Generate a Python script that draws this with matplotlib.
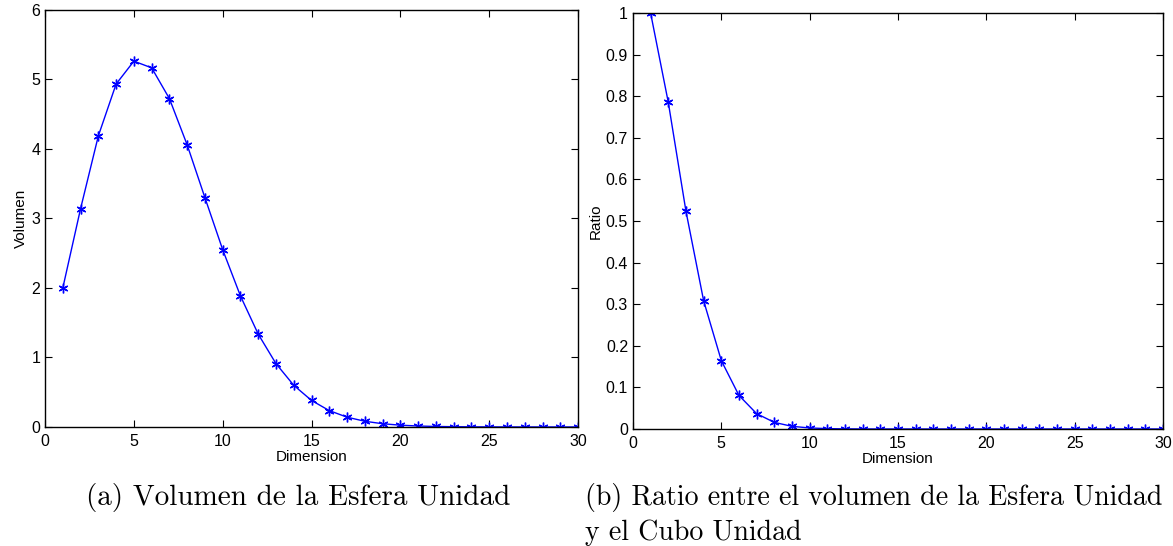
import numpy as np
import matplotlib
matplotlib.use("Agg")
import matplotlib.pyplot as plt

dims = list(range(1, 31))
volumen = [2.0000, 3.1416, 4.1888, 4.9348, 5.2638, 5.1677, 4.7248, 4.0587,
           3.2985, 2.5502, 1.8841, 1.3353, 0.9106, 0.5993, 0.3814, 0.2353,
           0.1409, 0.0821, 0.0466, 0.0258, 0.0139, 0.0073, 0.0038, 0.0019,
           0.0010, 0.0005, 0.0002, 0.0001, 0.0000, 0.0000]
ratio = [1.0000, 0.7854, 0.5236, 0.3084, 0.1645, 0.0807, 0.0369, 0.0159,
         0.0064, 0.0025, 0.0009, 0.0003, 0.0001, 0.0000, 0.0000, 0.0000,
         0.0000, 0.0000, 0.0000, 0.0000, 0.0000, 0.0000, 0.0000, 0.0000,
         0.0000, 0.0000, 0.0000, 0.0000, 0.0000, 0.0000]
xticks = [0, 5, 10, 15, 20, 25, 30]
yticks_a = [0, 1, 2, 3, 4, 5, 6]
yticks_b = [0, 0.1, 0.2, 0.3, 0.4, 0.5, 0.6, 0.7, 0.8, 0.9, 1]
caption_a = "(a) Volumen de la Esfera Unidad"
caption_b1 = "(b) Ratio entre el volumen de la Esfera Unidad"
caption_b2 = "y el Cubo Unidad"

plt.rcParams['font.family'] = ['Liberation Sans', 'DejaVu Sans']

fig = plt.figure(figsize=(11.73, 5.46), dpi=100)
ax1 = fig.add_axes([0.0384, 0.218, 0.4544, 0.7637])
ax2 = fig.add_axes([0.5396, 0.2143, 0.4519, 0.7617])

# asterisk marker: six spokes, like the MATLAB '*'
star = (6, 2, 0)


def style(ax, y, yticks, ylabel):
    ax.plot(dims, y, color='blue', lw=1.0, marker=star, ms=7, mew=1.0)
    ax.set_xlim(0, 30)
    ax.set_ylim(yticks[0], yticks[-1])
    ax.set_xticks(xticks)
    ax.set_yticks(yticks)
    ax.set_yticklabels([f"{t:g}" for t in yticks])
    ax.tick_params(direction='in', top=True, right=True, length=5,
                   labelsize=11.5, width=0.8)
    ax.tick_params(axis='x', pad=5)
    ax.set_xlabel("Dimension", fontsize=11, labelpad=1)
    ax.set_ylabel(ylabel, fontsize=11, labelpad=2)
    for s in ax.spines.values():
        s.set_linewidth(1.0)


style(ax1, volumen, yticks_a, "Volumen")
style(ax2, ratio, yticks_b, "Ratio")

fig.text(0.254, 1 - 497 / 546, caption_a, family='cmr10', fontsize=21,
         ha='center', va='center')
fig.text(0.4987, 1 - 497 / 546, caption_b1, family='cmr10', fontsize=20.1,
         ha='left', va='center')
fig.text(0.4987, 1 - 533 / 546, caption_b2, family='cmr10', fontsize=20.1,
         ha='left', va='center')

fig.savefig("out.png", dpi=100)
